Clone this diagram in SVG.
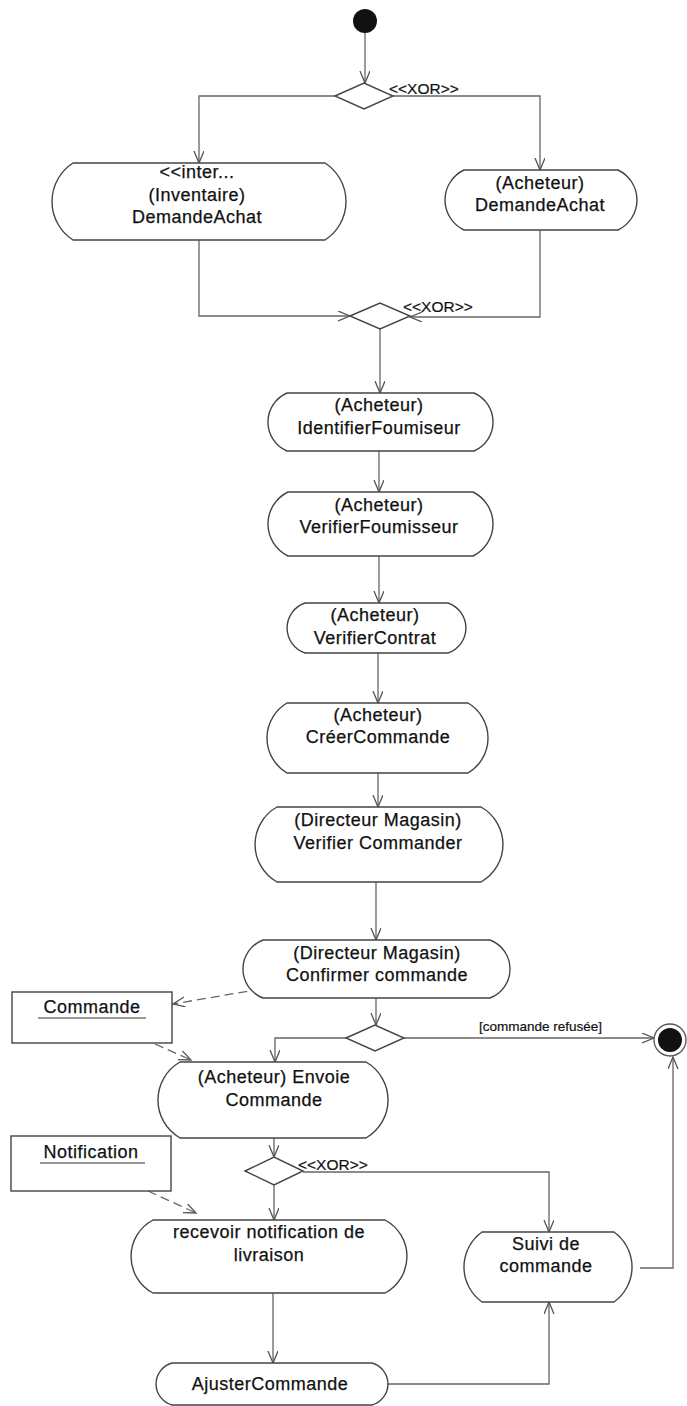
<svg xmlns="http://www.w3.org/2000/svg" width="687" height="1406" viewBox="0 0 687 1406">
<style>
.node{fill:#fff;stroke:#444;stroke-width:1.4}
.t{font-family:"Liberation Sans",Arial,sans-serif;font-size:18px;fill:#111;stroke:#111;stroke-width:0.25;text-anchor:middle;letter-spacing:0.5px}
.lbl{font-family:"Liberation Sans",Arial,sans-serif;font-size:15.5px;fill:#111;stroke:#111;stroke-width:0.2}
.sm{font-family:"Liberation Sans",Arial,sans-serif;font-size:13.5px;fill:#111;stroke:#111;stroke-width:0.2}
.c{fill:none;stroke:#666;stroke-width:1.3;marker-end:url(#arr)}
.d{fill:none;stroke:#666;stroke-width:1.3;stroke-dasharray:9,5;marker-end:url(#arr)}
.ul{stroke:#333;stroke-width:1.2}
</style>
<defs>
<marker id="arr" markerUnits="userSpaceOnUse" markerWidth="14" markerHeight="12" refX="12" refY="5" orient="auto">
<path d="M0,0 L12,5 L0,10" fill="none" stroke="#555" stroke-width="1.3"/>
</marker>
</defs>
<rect width="687" height="1406" fill="#fff"/>

<g id="connectors">
<path class="c" d="M365,33 V83"/>
<path class="c" d="M335,96 H199 V163"/>
<path class="c" d="M393,96 H540 V170"/>
<path class="c" d="M199,240 V316 H350"/>
<path class="c" d="M540,230 V317 H410"/>
<path class="c" d="M380,329 V393"/>
<path class="c" d="M379,451 V492"/>
<path class="c" d="M379,556 V603"/>
<path class="c" d="M378,653 V703"/>
<path class="c" d="M378,773 V807"/>
<path class="c" d="M376,882 V940"/>
<path class="c" d="M376,998 V1025"/>
<path class="c" d="M404,1038 H654"/>
<path class="c" d="M346,1038 H275 V1062"/>
<path class="d" d="M261,989 L173,1004"/>
<path class="d" d="M155,1044 L191,1060"/>
<path class="c" d="M274,1138 V1157"/>
<path class="c" d="M303,1172 H549 V1232"/>
<path class="c" d="M274,1185 V1220"/>
<path class="d" d="M148,1191 L196,1213"/>
<path class="c" d="M273,1293 V1363"/>
<path class="c" d="M388,1384 H549 V1302"/>
<path class="c" d="M640,1268 H673 V1057"/>
<text class="lbl" x="389" y="94">&lt;&lt;XOR&gt;&gt;</text>
<text class="lbl" x="403" y="312">&lt;&lt;XOR&gt;&gt;</text>
<text class="sm" x="479" y="1031">[commande refusée]</text>
<text class="lbl" x="298" y="1170">&lt;&lt;XOR&gt;&gt;</text>
</g>

<g id="start"><circle cx="365" cy="21" r="12" fill="#111"/></g>
<g id="xor1"><polygon class="node" points="335,96 364,83 393,96 364,109"/></g>
<g id="xor2"><polygon class="node" points="350,316 380,303 410,316 380,329"/></g>
<g id="dec3"><polygon class="node" points="346,1038 375,1025 404,1038 375,1051"/></g>
<g id="xor4"><polygon class="node" points="245,1171 274,1157 303,1171 274,1185"/></g>
<g id="final"><circle cx="670" cy="1040" r="16" fill="#fff" stroke="#555" stroke-width="1.3"/><circle cx="670" cy="1040" r="12" fill="#111"/></g>

<g id="n_inventaire">
<path class="node" d="M73,163 H325 A45.8,45.8 0 0 1 325,240 H73 A45.8,45.8 0 0 1 73,163 Z"/>
<text class="t" x="197" y="178">&lt;&lt;inter...</text>
<text class="t" x="197" y="201">(Inventaire)</text>
<text class="t" x="197" y="223">DemandeAchat</text>
</g>
<g id="n_acheteur_demande">
<path class="node" d="M464,170 H618 A33.2,33.2 0 0 1 618,230 H464 A33.2,33.2 0 0 1 464,170 Z"/>
<text class="t" x="540" y="189">(Acheteur)</text>
<text class="t" x="540" y="211">DemandeAchat</text>
</g>
<g id="n_identifier">
<path class="node" d="M287,393 H474 A31.6,31.6 0 0 1 474,451 H287 A31.6,31.6 0 0 1 287,393 Z"/>
<text class="t" x="379" y="411">(Acheteur)</text>
<text class="t" x="379" y="434">IdentifierFoumiseur</text>
</g>
<g id="n_verif_fourn">
<path class="node" d="M288,492 H473 A35.6,35.6 0 0 1 473,556 H288 A35.6,35.6 0 0 1 288,492 Z"/>
<text class="t" x="379" y="511">(Acheteur)</text>
<text class="t" x="379" y="533">VerifierFoumisseur</text>
</g>
<g id="n_verif_contrat">
<path class="node" d="M305,603 H448 A26.4,26.4 0 0 1 448,653 H305 A26.4,26.4 0 0 1 305,603 Z"/>
<text class="t" x="375" y="621">(Acheteur)</text>
<text class="t" x="375" y="644">VerifierContrat</text>
</g>
<g id="n_creer">
<path class="node" d="M287,703 H468 A40.6,40.6 0 0 1 468,773 H287 A40.6,40.6 0 0 1 287,703 Z"/>
<text class="t" x="378" y="721">(Acheteur)</text>
<text class="t" x="378" y="743">CréerCommande</text>
</g>
<g id="n_verif_cmd">
<path class="node" d="M277,807 H481 A43,43 0 0 1 481,882 H277 A43,43 0 0 1 277,807 Z"/>
<text class="t" x="378" y="826">(Directeur Magasin)</text>
<text class="t" x="378" y="849">Verifier Commander</text>
</g>
<g id="n_confirmer">
<path class="node" d="M263,940 H490 A31,31 0 0 1 490,998 H263 A31,31 0 0 1 263,940 Z"/>
<text class="t" x="377" y="959">(Directeur Magasin)</text>
<text class="t" x="377" y="981">Confirmer commande</text>
</g>
<g id="obj_commande">
<rect class="node" x="12" y="992" width="160" height="51"/>
<text class="t" x="92" y="1013">Commande</text>
<line class="ul" x1="38" y1="1018" x2="146" y2="1018"/>
</g>
<g id="n_envoie">
<path class="node" d="M180,1062 H366 A43.8,43.8 0 0 1 366,1138 H180 A43.8,43.8 0 0 1 180,1062 Z"/>
<text class="t" x="274" y="1083">(Acheteur) Envoie</text>
<text class="t" x="274" y="1106">Commande</text>
</g>
<g id="obj_notification">
<rect class="node" x="11" y="1136" width="160" height="55"/>
<text class="t" x="91" y="1158">Notification</text>
<line class="ul" x1="40" y1="1163" x2="145" y2="1163"/>
</g>
<g id="n_recevoir">
<path class="node" d="M153,1220 H385 A41.3,41.3 0 0 1 385,1293 H153 A41.3,41.3 0 0 1 153,1220 Z"/>
<text class="t" x="269" y="1238">recevoir notification de</text>
<text class="t" x="269" y="1261">livraison</text>
</g>
<g id="n_suivi">
<path class="node" d="M482,1232 H614 A43,43 0 0 1 614,1302 H482 A43,43 0 0 1 482,1232 Z"/>
<text class="t" x="546" y="1250">Suivi de</text>
<text class="t" x="546" y="1272">commande</text>
</g>
<g id="n_ajuster">
<path class="node" d="M172,1363 H372 A21.8,21.8 0 0 1 372,1405 H172 A21.8,21.8 0 0 1 172,1363 Z"/>
<text class="t" x="270" y="1390">AjusterCommande</text>
</g>
</svg>
